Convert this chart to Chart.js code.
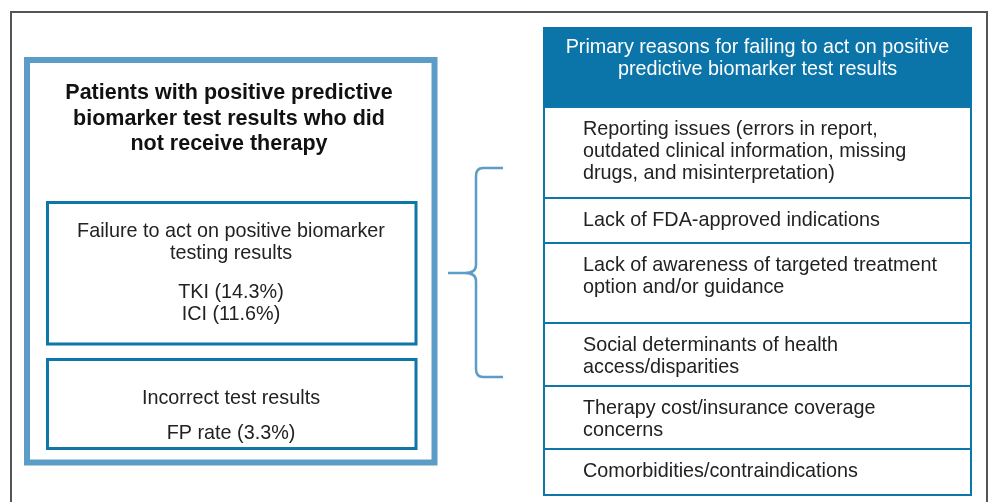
<!DOCTYPE html>
<html>
<head>
<meta charset="utf-8">
<script src="https://cdn.jsdelivr.net/npm/chart.js@4"></script>
<style>
  html, body { margin: 0; padding: 0; background: #fff; }
  #diagram { display: block; }
</style>
</head>
<body>
<canvas id="diagram" width="989" height="502"></canvas>
<script>
// text / values
const titleLines = ['Patients with positive predictive', 'biomarker test results who did', 'not receive therapy'];
const failureLines = ['Failure to act on positive biomarker', 'testing results'];
const therapyTypes = ['TKI', 'ICI'];
const therapyRates = [14.3, 11.6];
const testIssue = 'Incorrect test results';
const fpLabel = 'FP rate';
const fpRate = 3.3;
const headerLines = ['Primary reasons for failing to act on positive', 'predictive biomarker test results'];
const reasons = [
    ['Reporting issues (errors in report,', 'outdated clinical information, missing', 'drugs, and misinterpretation)'],
    ['Lack of FDA-approved indications'],
    ['Lack of awareness of targeted treatment', 'option and/or guidance'],
    ['Social determinants of health', 'access/disparities'],
    ['Therapy cost/insurance coverage', 'concerns'],
    ['Comorbidities/contraindications']
];

const lightBlue = '#5b9dc7';
const darkBlue = '#0f76a9';
const bodyFont = "19.8px 'Liberation Sans', Arial, sans-serif";
const boldFont = "bold 21.5px 'Liberation Sans', Arial, sans-serif";

// row edges of the reasons table (figure units)
const rowEdges = [107, 198, 243, 323, 386, 449, 495];

const diagramPlugin = {
    id: 'diagram',
    afterDraw(chart) {
        const ctx = chart.ctx;
        const xs = chart.scales.x, ys = chart.scales.y;
        const px = v => xs.getPixelForValue(v);
        const py = v => ys.getPixelForValue(v);

        function rect(x0, y0, x1, y1, color, lw) {
            ctx.strokeStyle = color;
            ctx.lineWidth = lw;
            ctx.strokeRect(px(x0), py(y0), px(x1) - px(x0), py(y1) - py(y0));
        }
        function text(str, x, y, font, color, align) {
            ctx.font = font;
            ctx.fillStyle = color;
            ctx.textAlign = align;
            ctx.textBaseline = 'middle';
            ctx.fillText(str, px(x), py(y + 1.5));
        }

        ctx.save();

        // outer frame (open at bottom)
        ctx.strokeStyle = '#555';
        ctx.lineWidth = 2;
        ctx.beginPath();
        ctx.moveTo(px(11), py(502));
        ctx.lineTo(px(11), py(12));
        ctx.lineTo(px(987), py(12));
        ctx.lineTo(px(987), py(502));
        ctx.stroke();

        // left panel
        rect(27, 60, 434.5, 462.5, lightBlue, 6);
        titleLines.forEach((t, i) => text(t, 229, 92 + i * 25.5, boldFont, '#111', 'center'));

        rect(47.5, 202.5, 416, 344, darkBlue, 3);
        failureLines.forEach((t, i) => text(t, 231, 230 + i * 22, bodyFont, '#222', 'center'));
        therapyTypes.forEach((t, i) => text(t + ' (' + therapyRates[i].toFixed(1) + '%)', 231, 291 + i * 22, bodyFont, '#222', 'center'));

        rect(47.5, 359.5, 416, 448.5, darkBlue, 3);
        text(testIssue, 231, 397, bodyFont, '#222', 'center');
        text(fpLabel + ' (' + fpRate.toFixed(1) + '%)', 231, 432, bodyFont, '#222', 'center');

        // brace
        ctx.strokeStyle = lightBlue;
        ctx.lineWidth = 2.5;
        ctx.beginPath();
        ctx.moveTo(px(503), py(168));
        ctx.lineTo(px(483), py(168));
        ctx.quadraticCurveTo(px(476), py(168), px(476), py(176));
        ctx.lineTo(px(476), py(265));
        ctx.quadraticCurveTo(px(476), py(273), px(465), py(273));
        ctx.lineTo(px(448), py(273));
        ctx.moveTo(px(465), py(273));
        ctx.quadraticCurveTo(px(476), py(273), px(476), py(281));
        ctx.lineTo(px(476), py(369));
        ctx.quadraticCurveTo(px(476), py(377), px(483), py(377));
        ctx.lineTo(px(503), py(377));
        ctx.stroke();

        // reasons table
        ctx.fillStyle = '#0b74a8';
        ctx.fillRect(px(543), py(27), px(972) - px(543), py(107) - py(27));
        headerLines.forEach((t, i) => text(t, 757.5, 46 + i * 22, bodyFont, '#fff', 'center'));

        reasons.forEach((lines, r) => {
            rect(544, rowEdges[r], 971, rowEdges[r + 1], darkBlue, 2);
            lines.forEach((t, i) => text(t, 583, rowEdges[r] + 21 + i * 22, bodyFont, '#222', 'left'));
        });

        ctx.restore();
    }
};

const chart = new Chart(document.getElementById('diagram'), {
    type: 'scatter',
    data: { datasets: [{ data: [] }] },
    options: {
        responsive: false,
        animation: false,
        layout: { padding: 0 },
        scales: {
            x: { type: 'linear', min: 0, max: 989, display: false },
            y: { type: 'linear', min: 0, max: 502, reverse: true, display: false }
        },
        plugins: { legend: { display: false }, tooltip: { enabled: false } }
    },
    plugins: [diagramPlugin]
});
</script>
</body>
</html>
